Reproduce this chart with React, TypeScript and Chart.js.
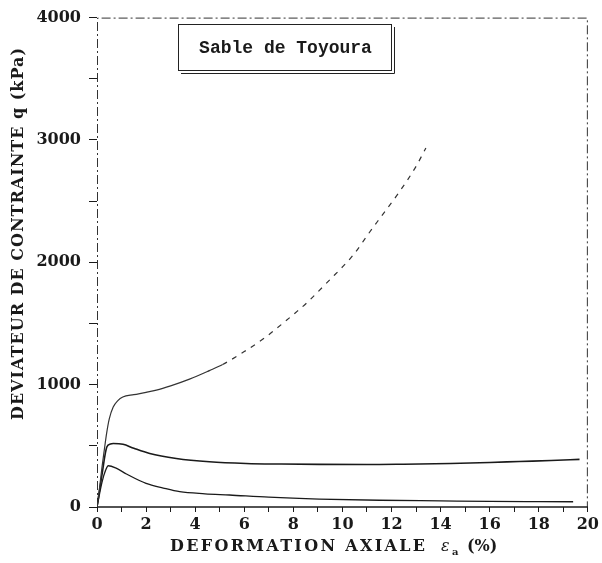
import React, { useEffect, useRef } from "react";
import { Chart, registerables } from "chart.js";

Chart.register(...registerables);

// Dense curve (top)
const denseX = [0, 0.1, 0.2, 0.3, 0.39, 0.5, 0.66, 0.85, 1.05, 1.5, 2.0, 2.42, 3.0, 3.77, 4.58, 5.12, 6.0, 6.88, 7.29, 8.1, 8.57, 9.38, 10.47, 11.07, 11.6, 12.3, 12.97, 13.4];
const denseY = [0, 150, 320, 470, 600, 720, 817, 870, 899, 918, 937, 955, 990, 1045, 1115, 1165, 1270, 1390, 1455, 1590, 1673, 1836, 2067, 2236, 2380, 2570, 2774, 2934];

// Medium curve
const mediumX = [0, 0.2, 0.4, 0.55, 0.66, 1.06, 1.5, 2.15, 3.23, 4.58, 6.07, 7.5, 9.05, 11.0, 12.5, 14.4, 16.0, 17.2, 18.5, 19.66];
const mediumY = [0, 260, 490, 515, 519, 513, 480, 437, 397, 370, 356, 351, 348, 347, 350, 356, 364, 372, 380, 389];

// Loose curve (bottom)
const looseX = [0, 0.2, 0.35, 0.46, 0.8, 1.2, 2.0, 2.7, 3.37, 4.4, 5.4, 7.0, 9.05, 11.5, 14.0, 16.0, 18.0, 19.4];
const looseY = [0, 200, 300, 337, 315, 270, 193, 155, 125, 108, 98, 80, 65, 55, 50, 46, 44, 43];

const xTicks = [0, 2, 4, 6, 8, 10, 12, 14, 16, 18, 20];
const yTicks = [0, 1000, 2000, 3000, 4000];

const boxTitle = "Sable de Toyoura";
const yTitle = "DEVIATEUR DE CONTRAINTE q (kPa)";
const xTitleMain = "DEFORMATION AXIALE";
const xTitleSym = "ε";
const xTitleSub = "a";
const xTitleUnit = "(%)";

const toPts = (xs: number[], ys: number[]) => xs.map((x, i) => ({ x, y: ys[i] }));

const INK = "#1a1a1a";
const SERIF = "'DejaVu Serif', serif";

function fitText(ctx: any, text: string, x: number, y: number, target: number) {
  ctx.letterSpacing = "0px";
  const w = ctx.measureText(text).width;
  const sp = (target - w) / Math.max(1, text.length - 1);
  ctx.letterSpacing = `${sp}px`;
  ctx.fillText(text, x, y);
  ctx.letterSpacing = "0px";
}

const decorPlugin = {
  id: "decor",
  beforeDatasetsDraw(chart: any) {
    const { ctx, chartArea: a } = chart;
    ctx.save();
    ctx.strokeStyle = "#333";
    ctx.lineWidth = 1;
    ctx.setLineDash([9, 3, 2, 3]);
    ctx.beginPath();
    ctx.moveTo(a.left + 0.5, a.bottom);
    ctx.lineTo(a.left + 0.5, a.top + 0.5);
    ctx.lineTo(a.right - 0.5, a.top + 0.5);
    ctx.lineTo(a.right - 0.5, a.bottom);
    ctx.stroke();
    ctx.setLineDash([]);
    ctx.strokeStyle = INK;
    ctx.lineWidth = 1.5;
    ctx.beginPath();
    ctx.moveTo(a.left, a.bottom);
    ctx.lineTo(a.right, a.bottom);
    ctx.stroke();
    ctx.restore();
  },
  afterDraw(chart: any) {
    const { ctx } = chart;
    ctx.save();
    ctx.fillStyle = INK;
    // Y title
    ctx.font = `bold 16px ${SERIF}`;
    ctx.textAlign = "left";
    ctx.textBaseline = "middle";
    ctx.translate(19, 420);
    ctx.rotate(-Math.PI / 2);
    fitText(ctx, yTitle, 0, 0, 372);
    ctx.setTransform(1, 0, 0, 1, 0, 0);
    // X title
    ctx.textAlign = "left";
    ctx.textBaseline = "alphabetic";
    const base = 551;
    ctx.font = `bold 16px ${SERIF}`;
    fitText(ctx, xTitleMain, 170, base, 255);
    ctx.font = `italic 16px ${SERIF}`;
    ctx.fillText(xTitleSym, 441, base);
    ctx.font = `bold 10px ${SERIF}`;
    ctx.fillText(xTitleSub, 452, base + 4);
    ctx.font = `bold 16px ${SERIF}`;
    ctx.fillText(xTitleUnit, 467, base);
    // Box
    const bx = 178, by = 24, bw = 213, bh = 46;
    ctx.strokeStyle = "#222";
    ctx.lineWidth = 1;
    ctx.strokeRect(bx + 0.5, by + 0.5, bw, bh);
    ctx.beginPath();
    ctx.moveTo(bx + 3, by + bh + 3.5);
    ctx.lineTo(bx + bw + 3.5, by + bh + 3.5);
    ctx.lineTo(bx + bw + 3.5, by + 3);
    ctx.stroke();
    ctx.font = `bold 18px 'Liberation Mono', monospace`;
    ctx.textAlign = "center";
    ctx.textBaseline = "middle";
    ctx.fillText(boxTitle, bx + bw / 2 + 1, by + bh / 2 + 1);
    ctx.restore();
  },
};

export default function App() {
  const ref = useRef<HTMLCanvasElement | null>(null);
  useEffect(() => {
    document.body.style.margin = "0";
    const canvas = ref.current!;
    const chart = new Chart(canvas, {
      type: "scatter",
      data: {
        datasets: [
          {
            data: toPts(denseX, denseY),
            showLine: true,
            borderColor: "#333",
            borderWidth: 1.2,
            pointRadius: 0,
            cubicInterpolationMode: "monotone",
            segment: {
              borderDash: (c: any) => (c.p0.parsed.x >= 5 ? [5, 6] : undefined),
            },
          },
          {
            data: toPts(mediumX, mediumY),
            showLine: true,
            borderColor: INK,
            borderWidth: 1.6,
            pointRadius: 0,
            cubicInterpolationMode: "monotone",
          },
          {
            data: toPts(looseX, looseY),
            showLine: true,
            borderColor: INK,
            borderWidth: 1.3,
            pointRadius: 0,
            cubicInterpolationMode: "monotone",
          },
        ],
      },
      options: {
        animation: false,
        responsive: false,
        maintainAspectRatio: false,
        layout: { padding: { top: 17, right: 12, left: 0, bottom: 0 } },
        plugins: { legend: { display: false }, tooltip: { enabled: false } },
        scales: {
          x: {
            type: "linear",
            min: 0,
            max: 20,
            border: { display: false },
            grid: { drawOnChartArea: false, tickLength: 5, color: INK, lineWidth: 1 },
            ticks: {
              stepSize: 1,
              autoSkip: false,
              maxRotation: 0,
              color: INK,
              padding: 3,
              font: { family: SERIF, size: 16, weight: "bold" },
              callback: (v: any) => (xTicks.includes(Number(v)) ? String(v) : ""),
            },
            afterFit: (s: any) => {
              s.height = 56;
            },
          },
          y: {
            type: "linear",
            min: 0,
            max: 4000,
            border: { display: false },
            grid: { drawOnChartArea: false, tickLength: 8, color: INK, lineWidth: 1 },
            ticks: {
              stepSize: 500,
              autoSkip: false,
              color: INK,
              padding: 8,
              font: { family: SERIF, size: 16, weight: "bold" },
              callback: (v: any) => (yTicks.includes(Number(v)) ? String(v) : ""),
            },
            afterFit: (s: any) => {
              s.width = 97;
            },
          },
        },
      },
      plugins: [decorPlugin],
    });
    return () => chart.destroy();
  }, []);
  return (
    <div style={{ width: 602, height: 563, background: "#fff" }}>
      <canvas ref={ref} width={602} height={563} style={{ display: "block" }} />
    </div>
  );
}
